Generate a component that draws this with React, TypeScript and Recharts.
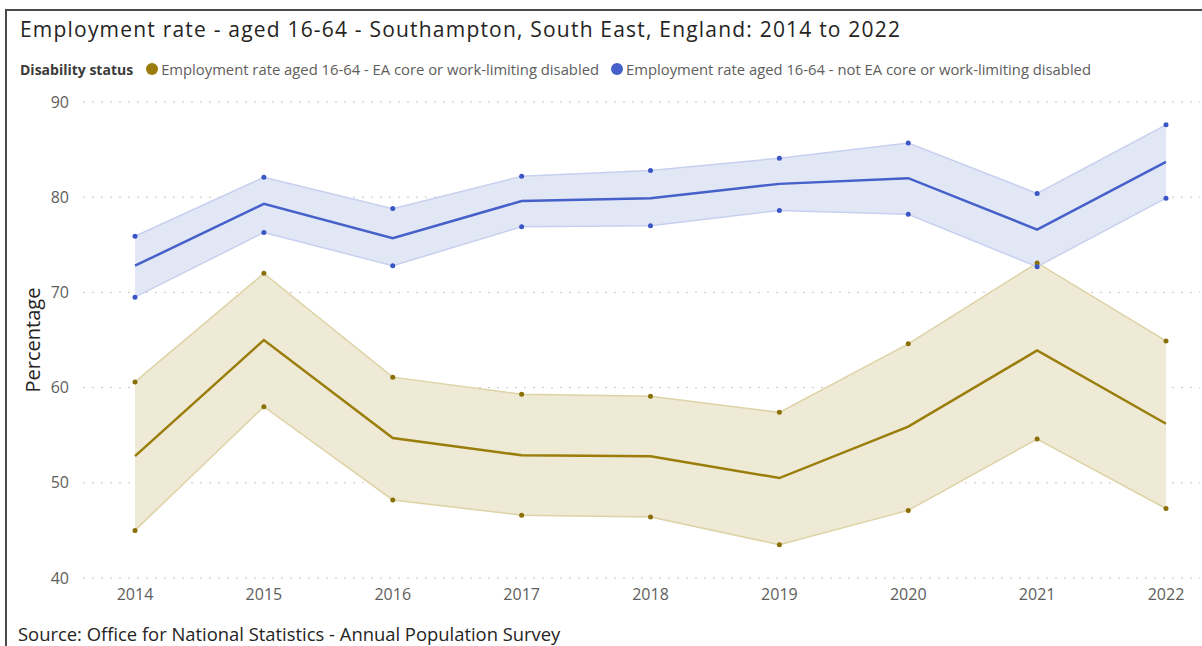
import React from 'react';
import { ComposedChart, Line, Area, XAxis, YAxis, CartesianGrid, Legend, Label } from 'recharts';

const years = ['2014', '2015', '2016', '2017', '2018', '2019', '2020', '2021', '2022'];

// EA core or work-limiting disabled
const disabledRate = [52.8, 65.0, 54.7, 52.9, 52.8, 50.5, 55.9, 63.9, 56.2];
const disabledLower = [45.0, 58.0, 48.2, 46.6, 46.4, 43.5, 47.1, 54.6, 47.3];
const disabledUpper = [60.6, 72.0, 61.1, 59.3, 59.1, 57.4, 64.6, 73.1, 64.9];

// not EA core or work-limiting disabled
const notDisabledRate = [72.8, 79.3, 75.7, 79.6, 79.9, 81.4, 82.0, 76.6, 83.7];
const notDisabledLower = [69.5, 76.3, 72.8, 76.9, 77.0, 78.6, 78.2, 72.7, 79.9];
const notDisabledUpper = [75.9, 82.1, 78.8, 82.2, 82.8, 84.1, 85.7, 80.4, 87.6];

const yTicks = [40, 50, 60, 70, 80, 90];

const GOLD = '#9a7d0a';
const GOLD_DOT = '#8a6f05';
const GOLD_FILL = '#efead6';
const GOLD_EDGE = '#ddd3a6';
const BLUE = '#4560c9';
const BLUE_DOT = '#3a56c4';
const BLUE_FILL = '#e2e7f6';
const BLUE_EDGE = '#c8d0ef';

const FONT = '"Open Sans", "Noto Sans", sans-serif';

const data = years.map((year, i) => ({
  year,
  dis: disabledRate[i],
  disLo: disabledLower[i],
  disHi: disabledUpper[i],
  disBand: [disabledLower[i], disabledUpper[i]],
  nd: notDisabledRate[i],
  ndLo: notDisabledLower[i],
  ndHi: notDisabledUpper[i],
  ndBand: [notDisabledLower[i], notDisabledUpper[i]],
}));

const renderLegend = (props: any) => {
  const items = (props.payload || []).filter((e: any) => e.type !== 'none');
  return (
    <div style={{ display: 'flex', alignItems: 'center', fontFamily: FONT, fontSize: 14.8, color: '#605e5c', whiteSpace: 'nowrap' }}>
      <span style={{ fontWeight: 700, fontSize: 14, color: '#3b3a39', marginRight: 13 }}>Disability status</span>
      {items.map((entry: any) => (
        <span key={entry.value} style={{ display: 'inline-flex', alignItems: 'center', marginRight: 12 }}>
          <span style={{ display: 'inline-block', width: 12, height: 12, borderRadius: 6, background: entry.color, marginRight: 3 }} />
          {entry.value}
        </span>
      ))}
    </div>
  );
};

const YLabel = (props: any) => {
  const { viewBox } = props;
  const x = viewBox.x + 32;
  const y = viewBox.y + viewBox.height / 2;
  return (
    <text x={x} y={y} transform={`rotate(-90, ${x}, ${y})`} textAnchor="middle" dominantBaseline="central"
      fontFamily={FONT} fontSize={20} fill="#252423">
      Percentage
    </text>
  );
};

export default function App() {
  return (
    <div style={{ position: 'absolute', top: 0, left: 0, width: 1202, height: 646, background: '#fff', overflow: 'hidden' }}>
      <div style={{ position: 'absolute', left: 5, top: 9, right: 0, bottom: 0, borderTop: '2px solid #4a4a4a', borderLeft: '2px solid #4a4a4a' }} />
      <div style={{ position: 'absolute', left: 20, top: 15, fontFamily: FONT, fontSize: 21, letterSpacing: 1.2, color: '#252423', whiteSpace: 'nowrap' }}>
        Employment rate - aged 16-64 - Southampton, South East, England: 2014 to 2022
      </div>
      <div style={{ position: 'absolute', top: 0, left: 0 }}>
        <ComposedChart width={1202} height={646} data={data} margin={{ top: 102, right: 2, bottom: 38, left: 0 }}>
          <CartesianGrid vertical={false} stroke="#c8c6c4" strokeDasharray="2 7" />
          <XAxis dataKey="year" axisLine={false} tickLine={false} padding={{ left: 52, right: 34 }}
            tickMargin={5} tick={{ fontFamily: FONT, fontSize: 16, fill: '#605e5c' }} />
          <YAxis domain={[40, 90]} ticks={yTicks} width={83} axisLine={false} tickLine={false} tickMargin={8}
            tick={{ fontFamily: FONT, fontSize: 16, fill: '#605e5c' }}>
            <Label content={<YLabel />} />
          </YAxis>
          <Legend verticalAlign="middle" align="center" content={renderLegend}
            wrapperStyle={{ top: 59, left: 20, width: 1170 }} />
          <Area dataKey="disBand" fill={GOLD_FILL} fillOpacity={1} stroke="none" legendType="none" isAnimationActive={false} />
          <Area dataKey="ndBand" fill={BLUE_FILL} fillOpacity={1} stroke="none" legendType="none" isAnimationActive={false} />
          <Line dataKey="disHi" stroke={GOLD_EDGE} strokeWidth={1.5} dot={{ r: 2.5, fill: GOLD_DOT, stroke: 'none' }} activeDot={false} legendType="none" isAnimationActive={false} />
          <Line dataKey="disLo" stroke={GOLD_EDGE} strokeWidth={1.5} dot={{ r: 2.5, fill: GOLD_DOT, stroke: 'none' }} activeDot={false} legendType="none" isAnimationActive={false} />
          <Line dataKey="ndHi" stroke={BLUE_EDGE} strokeWidth={1.5} dot={{ r: 2.5, fill: BLUE_DOT, stroke: 'none' }} activeDot={false} legendType="none" isAnimationActive={false} />
          <Line dataKey="ndLo" stroke={BLUE_EDGE} strokeWidth={1.5} dot={{ r: 2.5, fill: BLUE_DOT, stroke: 'none' }} activeDot={false} legendType="none" isAnimationActive={false} />
          <Line dataKey="dis" name="Employment rate aged 16-64 - EA core or work-limiting disabled" stroke={GOLD} strokeWidth={2.5} dot={false} isAnimationActive={false} />
          <Line dataKey="nd" name="Employment rate aged 16-64 - not EA core or work-limiting disabled" stroke={BLUE} strokeWidth={2.5} dot={false} isAnimationActive={false} />
        </ComposedChart>
      </div>
      <div style={{ position: 'absolute', left: 18, top: 621, fontFamily: FONT, fontSize: 18.4, color: '#252423', whiteSpace: 'nowrap' }}>
        Source: Office for National Statistics - Annual Population Survey
      </div>
    </div>
  );
}
